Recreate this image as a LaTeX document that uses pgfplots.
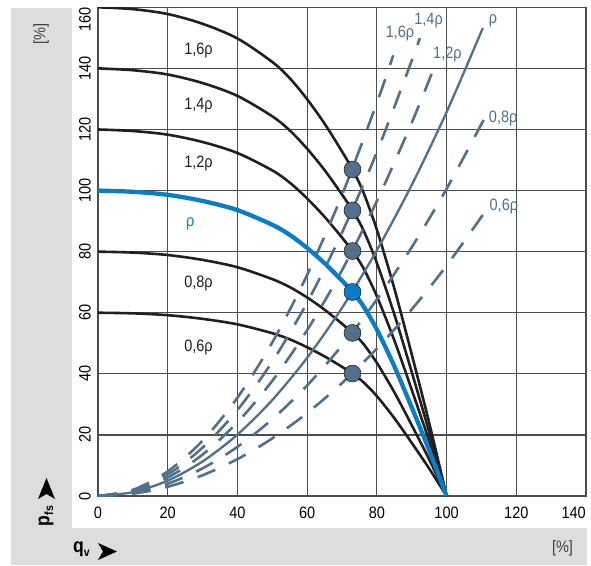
\documentclass[border=0pt]{standalone}
\usepackage{fontspec}
\setmainfont{Liberation Sans}[FakeStretch=0.88]
\usepackage{pgfplots}
\pgfplotsset{compat=1.18}
\definecolor{bgray}{HTML}{DCDDDF}
\definecolor{gridc}{HTML}{4D4D4D}
\definecolor{fanblack}{HTML}{231F20}
\definecolor{rhoblue}{HTML}{0A7DC5}
\definecolor{slate}{HTML}{52708A}
\begin{document}
\begin{tikzpicture}[x=1pt,y=1pt]
\path[use as bounding box] (0,0) rectangle (591,565);
\fill[bgray] (11,0) rectangle (587,557);
\fill[white] (72,37) rectangle (587,557);
\begin{axis}[at={(98pt,69pt)}, anchor=south west, scale only axis,
  width=488pt, height=488.7pt,
  xmin=0, xmax=140, ymin=0, ymax=160,
  xtick={0,20,...,120}, ytick={0,20,...,140},
  extra x ticks={140}, extra y ticks={160},
  extra x tick style={grid=major, xticklabel style={anchor=north east}},
  extra y tick style={grid=major, yticklabel style={anchor=south east}},
  grid=major, major grid style={gridc, line width=1.2pt},
  axis line style={gridc, line width=1.2pt},
  major tick length=0pt,
  /pgf/number format/assume math mode=true,
  ticklabel style={font=\fontsize{16.5}{16.5}\selectfont},
  xticklabel style={anchor=north, inner sep=0pt},
  yticklabel style={rotate=90, anchor=south, inner sep=0pt},
  xticklabel shift=11pt, yticklabel shift=7pt,
  ]
% fan curves (black)
\addplot[fanblack, line width=2.6pt, smooth] coordinates {(0,160) (10,159.4) (20,157.8) (30,154.6) (40,149.8) (50,142.1) (55,136.8) (60,129.9) (65,121.9) (70,112.8) (73,106.9) (76,99.8) (80,87.2) (85,68) (90,46.4) (95,24) (100,0)};
\addplot[fanblack, line width=2.6pt, smooth] coordinates {(0,140) (10,139.4) (20,138.0) (30,135.2) (40,131.0) (50,124.3) (55,119.7) (60,113.7) (65,106.7) (70,98.7) (73,93.5) (76,87.4) (80,76.3) (85,59.5) (90,40.6) (95,21) (100,0)};
\addplot[fanblack, line width=2.6pt, smooth] coordinates {(0,120) (10,119.5) (20,118.3) (30,115.9) (40,112.3) (50,106.6) (55,102.6) (60,97.4) (65,91.4) (70,84.6) (73,80.2) (76,74.9) (80,65.4) (85,51) (90,34.8) (95,18) (100,0)};
\addplot[fanblack, line width=2.6pt, smooth] coordinates {(0,80) (10,79.7) (20,78.9) (30,77.3) (40,74.9) (50,71.0) (55,68.4) (60,65.0) (65,61.0) (70,56.4) (73,53.4) (76,50.0) (80,43.6) (85,34) (90,23.2) (95,12) (100,0)};
\addplot[fanblack, line width=2.6pt, smooth] coordinates {(0,60) (10,59.8) (20,59.2) (30,58.0) (40,56.2) (50,53.3) (55,51.3) (60,48.7) (65,45.7) (70,42.3) (73,40.1) (76,37.4) (80,32.7) (85,25.5) (90,17.4) (95,9) (100,0)};
% system curves
\addplot[slate, line width=2.3pt, smooth] coordinates {(0,0) (10,1.26) (20,5.03) (30,11.31) (40,20.11) (50,31.43) (60,45.25) (70,61.59) (80,80.45) (90,101.82) (100,125.7) (110.4,153.2)};
\addplot[slate, line width=2.6pt, smooth, dash pattern=on 19pt off 15pt] coordinates {(0,0) (10,2.01) (20,8.05) (30,18.10) (40,32.18) (50,50.28) (60,72.40) (70,98.55) (80,128.7) (84.7,144.3)};
\addplot[slate, line width=2.6pt, smooth, dash pattern=on 19pt off 15pt] coordinates {(0,0) (10,1.76) (20,7.04) (30,15.84) (40,28.16) (50,43.99) (60,63.35) (70,86.23) (80,112.6) (90,142.5) (92.3,149.9)};
\addplot[slate, line width=2.6pt, smooth, dash pattern=on 19pt off 15pt] coordinates {(0,0) (10,1.51) (20,6.03) (30,13.57) (40,24.13) (50,37.71) (60,54.30) (70,73.91) (80,96.54) (90,122.2) (96.6,140.8)};
\addplot[slate, line width=2.6pt, smooth, dash pattern=on 19pt off 15pt] coordinates {(0,0) (10,1.01) (20,4.02) (30,9.05) (40,16.09) (50,25.14) (60,36.20) (70,49.27) (80,64.36) (90,81.45) (100,100.56) (110.9,123.7)};
\addplot[slate, line width=2.6pt, smooth, dash pattern=on 19pt off 15pt] coordinates {(0,0) (10,0.75) (20,3.02) (30,6.79) (40,12.07) (50,18.86) (60,27.15) (70,36.96) (80,48.27) (90,61.09) (100,75.42) (111.5,93.8)};
% base fan curve (blue)
\addplot[rhoblue, line width=4.3pt, smooth] coordinates {(0,100) (10,99.6) (20,98.6) (30,96.6) (40,93.6) (50,88.8) (55,85.5) (60,81.2) (65,76.2) (70,70.5) (73,66.8) (76,62.4) (80,54.5) (85,42.5) (90,29) (95,15) (100,0)};
% operating points
\addplot[only marks, mark=*, mark size=8.5pt, mark options={draw=none, fill=slate}] coordinates {(73,106.9) (73,93.5) (73,80.2) (73,53.4) (73,40.1)};
\addplot[only marks, mark=*, mark size=8.5pt, mark options={draw=none, fill=rhoblue}] coordinates {(73,66.8)};
% labels
\begin{scope}[every node/.style={font=\fontsize{16.5}{16.5}\selectfont, anchor=base west, inner sep=0pt}]
\node[text=fanblack] at (axis cs:24.7,144.4) {1,6ρ};
\node[text=fanblack] at (axis cs:24.7,126.4) {1,4ρ};
\node[text=fanblack] at (axis cs:24.7,107.7) {1,2ρ};
\node[text=rhoblue] at (axis cs:25.2,88.1) {ρ};
\node[text=fanblack] at (axis cs:24.7,68.4) {0,8ρ};
\node[text=fanblack] at (axis cs:24.7,47.2) {0,6ρ};
\node[text=slate] at (axis cs:90.7,154.4) {1,4ρ};
\node[text=slate] at (axis cs:82.5,150) {1,6ρ};
\node[text=slate] at (axis cs:96.1,143.3) {1,2ρ};
\node[text=slate] at (axis cs:112.1,154.7) {ρ};
\node[text=slate] at (axis cs:112.1,122.2) {0,8ρ};
\node[text=slate] at (axis cs:112.3,93.5) {0,6ρ};
\end{scope}
\end{axis}
\node[rotate=90, font=\fontsize{16.5}{16.5}\selectfont, text=black!75] at (41,531) {[\%]};
\node[font=\fontsize{16.5}{16.5}\selectfont, text=black!75] at (562.5,17) {[\%]};
\node[rotate=90, font=\bfseries\fontsize{20}{20}\selectfont, inner sep=0pt] at (46,49) {p\raisebox{-0.35ex}{\fontsize{12}{12}\selectfont fs}};
\node[font=\bfseries\fontsize{20}{20}\selectfont, inner sep=0pt] at (81.5,16) {q\raisebox{-0.35ex}{\fontsize{12}{12}\selectfont v}};
\fill (46.5,87) -- (38,66) -- (46.5,71) -- (55,66) -- cycle;
\fill (117,13.5) -- (98,22) -- (103,13.5) -- (98,5) -- cycle;
\end{tikzpicture}
\end{document}
